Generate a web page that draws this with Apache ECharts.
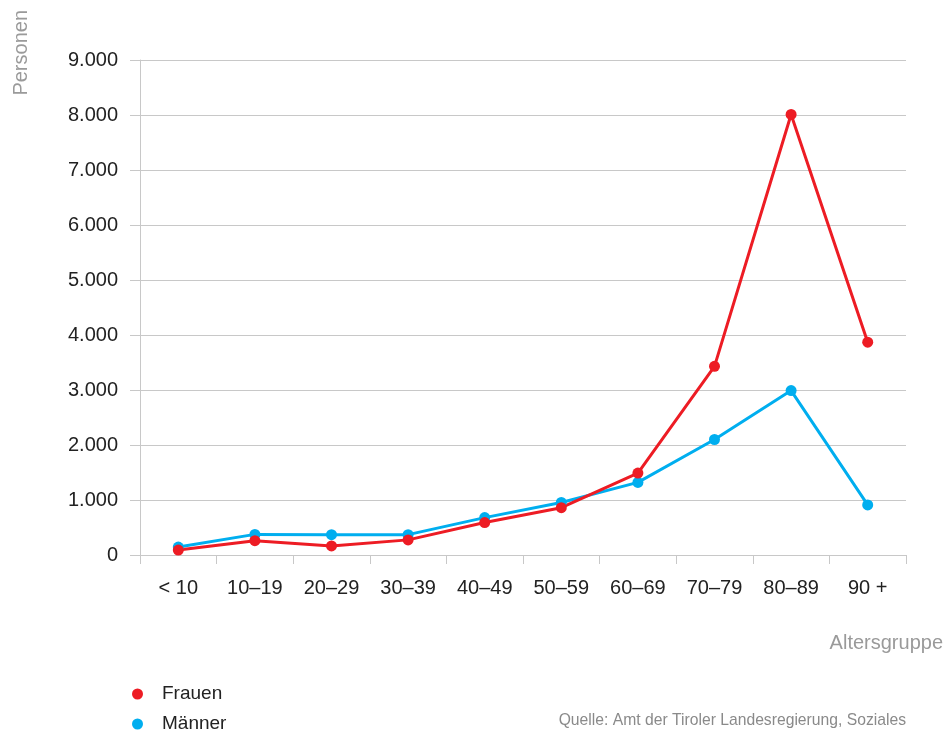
<!DOCTYPE html>
<html>
<head>
<meta charset="utf-8">
<script src="https://cdn.jsdelivr.net/npm/echarts@6/dist/echarts.min.js"></script>
<style>
  html, body { margin: 0; padding: 0; background: #fff; }
  #chart { width: 947px; height: 734px; }
</style>
</head>
<body>
<div id="chart"></div>
<script>
// Altersgruppen und Personenzahlen
const categories = ['< 10', '10–19', '20–29', '30–39', '40–49', '50–59', '60–69', '70–79', '80–89', '90 +'];
const frauen = [90, 260, 165, 275, 590, 860, 1490, 3430, 8010, 3870];
const maenner = [145, 375, 370, 370, 680, 955, 1320, 2100, 2990, 910];
const yTicks = { min: 0, max: 9000, interval: 1000 };

const RED = '#ED1C24';
const BLUE = '#00AEEF';
const GRID = '#c8c8c8';
const FONT = "'Liberation Sans', Arial, Helvetica, sans-serif";

function fmt(v) {
  return String(v).replace(/\B(?=(\d{3})+(?!\d))/g, '.');
}

function legendFor(name, top) {
  return {
    orient: 'vertical',
    left: 127,
    top: top,
    icon: 'circle',
    itemWidth: 11,
    itemHeight: 11,
    selectedMode: false,
    textStyle: { color: '#222', fontSize: 19, lineHeight: 22, fontFamily: FONT, padding: [0, 0, 0, 14] },
    data: [name]
  };
}

const chart = echarts.init(document.getElementById('chart'), null, { renderer: 'canvas' });

chart.setOption({
  animation: false,
  backgroundColor: '#fff',
  textStyle: { fontFamily: FONT },
  grid: { left: 140, right: 41, top: 60, bottom: 179, containLabel: false },
  xAxis: {
    type: 'category',
    data: categories,
    boundaryGap: true,
    axisLine: { show: true, lineStyle: { color: GRID, width: 1 } },
    axisTick: { show: true, length: 9, alignWithLabel: false, lineStyle: { color: GRID } },
    axisLabel: { color: '#222', fontSize: 20, margin: 23, fontFamily: FONT }
  },
  yAxis: {
    type: 'value',
    min: yTicks.min,
    max: yTicks.max,
    interval: yTicks.interval,
    axisLine: { show: true, lineStyle: { color: GRID, width: 1 } },
    axisTick: { show: true, length: 10, lineStyle: { color: GRID } },
    splitLine: { show: true, lineStyle: { color: GRID, width: 1 } },
    axisLabel: { color: '#222', fontSize: 20, margin: 22, fontFamily: FONT, formatter: fmt }
  },
  legend: [legendFor('Frauen', 678), legendFor('Männer', 708)],
  series: [
    {
      name: 'Männer',
      type: 'line',
      data: maenner,
      color: BLUE,
      symbol: 'circle',
      symbolSize: 11,
      lineStyle: { width: 3, color: BLUE },
      itemStyle: { color: BLUE }
    },
    {
      name: 'Frauen',
      type: 'line',
      data: frauen,
      color: RED,
      symbol: 'circle',
      symbolSize: 11,
      lineStyle: { width: 3, color: RED },
      itemStyle: { color: RED }
    }
  ],
  graphic: [
    {
      type: 'text',
      x: 11,
      y: 10,
      rotation: Math.PI / 2,
      style: { text: 'Personen', fill: '#9a9a9a', font: '20px ' + FONT, textAlign: 'right', textVerticalAlign: 'top' }
    },
    {
      type: 'text',
      right: 4,
      top: 633,
      style: { text: 'Altersgruppe', fill: '#9a9a9a', font: '20px ' + FONT }
    },
    {
      type: 'text',
      right: 41,
      top: 713,
      style: { text: 'Quelle: Amt der Tiroler Landesregierung, Soziales', fill: '#8a8a8a', font: '15.7px ' + FONT }
    }
  ]
});
</script>
</body>
</html>
